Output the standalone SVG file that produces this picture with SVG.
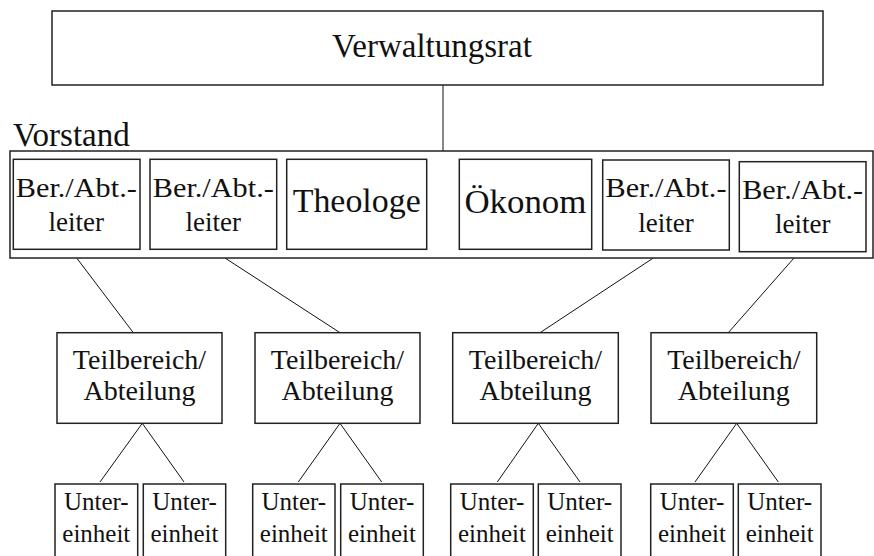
<svg xmlns="http://www.w3.org/2000/svg" width="874" height="556" viewBox="0 0 874 556">
<rect width="874" height="556" fill="#fff"/>
<g id="connectors" stroke="#111" stroke-width="1">
<line x1="443" y1="85" x2="443" y2="151"/>
<line x1="427" y1="208" x2="459" y2="208" stroke-dasharray="3,2"/>
<line x1="76.7" y1="258" x2="133.3" y2="332.7"/>
<line x1="225" y1="258" x2="340" y2="332.7"/>
<line x1="653.3" y1="258" x2="540" y2="332.7"/>
<line x1="794" y1="258" x2="728.3" y2="332.7"/>
<line x1="142.3" y1="423.3" x2="100" y2="482"/>
<line x1="142.3" y1="423.3" x2="184" y2="482"/>
<line x1="340" y1="423.3" x2="298.3" y2="482"/>
<line x1="340" y1="423.3" x2="381.7" y2="482"/>
<line x1="538.3" y1="423.3" x2="497.3" y2="482"/>
<line x1="538.3" y1="423.3" x2="580" y2="482"/>
<line x1="736.7" y1="423.3" x2="695" y2="482"/>
<line x1="736.7" y1="423.3" x2="778.3" y2="482"/>
</g>
<g id="boxes" fill="#fff" stroke="#222" stroke-width="1.5">
<rect id="r-vr" x="52" y="11" width="771" height="74"/>
<rect id="r-vs" x="10" y="151" width="863" height="107"/>
<rect id="r-ba1" x="13.3" y="159.3" width="126.7" height="90"/>
<rect id="r-ba2" x="150" y="159.3" width="126.7" height="90"/>
<rect id="r-theo" x="286.7" y="159.3" width="140" height="90"/>
<rect id="r-oek" x="459.3" y="159.3" width="132.4" height="90"/>
<rect id="r-ba3" x="602.7" y="160" width="126.6" height="90"/>
<rect id="r-ba4" x="739.3" y="161.7" width="126.7" height="90"/>
<rect id="r-tb1" x="57" y="332.7" width="165" height="90.6"/>
<rect id="r-tb2" x="255" y="332.7" width="165" height="90.6"/>
<rect id="r-tb3" x="452.7" y="332.7" width="165.6" height="90.6"/>
<rect id="r-tb4" x="651" y="332.7" width="165.7" height="90.6"/>
<rect id="r-ue1" x="55" y="484" width="82.7" height="80"/>
<rect id="r-ue2" x="143.3" y="484" width="82.4" height="80"/>
<rect id="r-ue3" x="252.7" y="484" width="82.3" height="80"/>
<rect id="r-ue4" x="340.7" y="484" width="82.6" height="80"/>
<rect id="r-ue5" x="450.7" y="484" width="82.6" height="80"/>
<rect id="r-ue6" x="538.3" y="484" width="82.7" height="80"/>
<rect id="r-ue7" x="650.7" y="484" width="82.6" height="80"/>
<rect id="r-ue8" x="738.3" y="484" width="82.7" height="80"/>
</g>
<g id="labels" fill="#111" text-anchor="middle">
<text x="432" y="57" font-size="33" font-family="Liberation Serif">Verwaltungsrat</text>
<text x="13" y="146" font-size="33" font-family="Liberation Serif" text-anchor="start">Vorstand</text>
<text x="76.3" y="196.7" font-size="27" font-family="Liberation Serif" textLength="121" lengthAdjust="spacingAndGlyphs">Ber./Abt.-</text>
<text x="76.3" y="230.7" font-size="27" font-family="Liberation Serif">leiter</text>
<text x="213.3" y="196.7" font-size="27" font-family="Liberation Serif" textLength="121" lengthAdjust="spacingAndGlyphs">Ber./Abt.-</text>
<text x="213.3" y="230.7" font-size="27" font-family="Liberation Serif">leiter</text>
<text x="356.7" y="211.7" font-size="33" font-family="Liberation Serif" textLength="128" lengthAdjust="spacingAndGlyphs">Theologe</text>
<text x="525.4" y="212.7" font-size="34" font-family="Liberation Serif" textLength="122" lengthAdjust="spacingAndGlyphs">&#214;konom</text>
<text x="666" y="197.3" font-size="27" font-family="Liberation Serif" textLength="121" lengthAdjust="spacingAndGlyphs">Ber./Abt.-</text>
<text x="666" y="231.7" font-size="27" font-family="Liberation Serif">leiter</text>
<text x="802.7" y="199" font-size="27" font-family="Liberation Serif" textLength="121" lengthAdjust="spacingAndGlyphs">Ber./Abt.-</text>
<text x="802.7" y="233" font-size="27" font-family="Liberation Serif">leiter</text>
<text x="139.5" y="369.3" font-size="28" font-family="Liberation Serif">Teilbereich/</text>
<text x="139.5" y="400" font-size="28" font-family="Liberation Serif">Abteilung</text>
<text x="337.5" y="369.3" font-size="28" font-family="Liberation Serif">Teilbereich/</text>
<text x="337.5" y="400" font-size="28" font-family="Liberation Serif">Abteilung</text>
<text x="535.5" y="369.3" font-size="28" font-family="Liberation Serif">Teilbereich/</text>
<text x="535.5" y="400" font-size="28" font-family="Liberation Serif">Abteilung</text>
<text x="733.8" y="369.3" font-size="28" font-family="Liberation Serif">Teilbereich/</text>
<text x="733.8" y="400" font-size="28" font-family="Liberation Serif">Abteilung</text>
<text x="96.3" y="510" font-size="25" font-family="Liberation Serif">Unter-</text>
<text x="96.3" y="541.7" font-size="25" font-family="Liberation Serif">einheit</text>
<text x="184.5" y="510" font-size="25" font-family="Liberation Serif">Unter-</text>
<text x="184.5" y="541.7" font-size="25" font-family="Liberation Serif">einheit</text>
<text x="293.8" y="510" font-size="25" font-family="Liberation Serif">Unter-</text>
<text x="293.8" y="541.7" font-size="25" font-family="Liberation Serif">einheit</text>
<text x="382" y="510" font-size="25" font-family="Liberation Serif">Unter-</text>
<text x="382" y="541.7" font-size="25" font-family="Liberation Serif">einheit</text>
<text x="492" y="510" font-size="25" font-family="Liberation Serif">Unter-</text>
<text x="492" y="541.7" font-size="25" font-family="Liberation Serif">einheit</text>
<text x="579.7" y="510" font-size="25" font-family="Liberation Serif">Unter-</text>
<text x="579.7" y="541.7" font-size="25" font-family="Liberation Serif">einheit</text>
<text x="692" y="510" font-size="25" font-family="Liberation Serif">Unter-</text>
<text x="692" y="541.7" font-size="25" font-family="Liberation Serif">einheit</text>
<text x="779.7" y="510" font-size="25" font-family="Liberation Serif">Unter-</text>
<text x="779.7" y="541.7" font-size="25" font-family="Liberation Serif">einheit</text>
</g>
</svg>
